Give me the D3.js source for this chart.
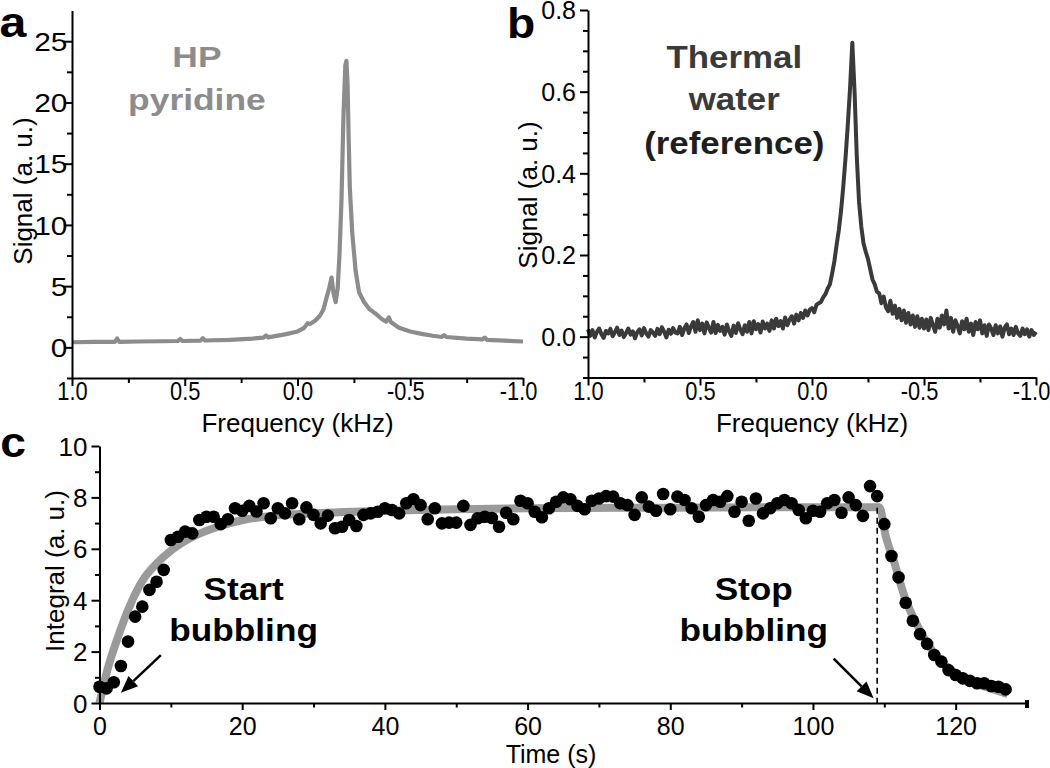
<!DOCTYPE html>
<html><head><meta charset="utf-8">
<script src="https://cdn.jsdelivr.net/npm/d3@7"></script>
<style>
body{margin:0;background:#fff}
svg{display:block}
text{font-family:"Liberation Sans",Arial,sans-serif}
</style></head>
<body><svg id="fig" width="1050" height="768"></svg>
<script>
// ---------------- DATA ----------------
// Panel a: HP pyridine spectrum (frequency kHz, signal a.u.)
const freqA = [1.0,0.9,0.81,0.8,0.79,0.7,0.6,0.53,0.52,0.51,0.43,0.42,0.41,0.3,0.2,0.15,0.14,0.13,0.1,0.05,0.0,-0.03,-0.045,-0.055,-0.08,-0.1,-0.115,-0.128,-0.14,-0.151,-0.16,-0.169,-0.178,-0.186,-0.195,-0.204,-0.212,-0.217,-0.222,-0.227,-0.232,-0.243,-0.258,-0.273,-0.295,-0.32,-0.35,-0.375,-0.393,-0.405,-0.415,-0.45,-0.5,-0.55,-0.6,-0.64,-0.65,-0.66,-0.75,-0.82,-0.83,-0.84,-0.92,-1.0];
const sigA = [0.42,0.45,0.45,0.72,0.45,0.48,0.5,0.52,0.68,0.52,0.55,0.74,0.56,0.62,0.72,0.8,0.98,0.82,0.92,1.08,1.3,1.6,1.98,1.9,2.2,2.6,3.1,4.0,4.8,5.7,4.4,3.7,4.8,7.5,12.0,19.0,23.0,23.4,21.5,17.0,13.0,9.3,6.2,4.5,3.7,3.1,2.7,2.3,2.1,2.45,2.05,1.6,1.3,1.1,0.95,0.85,1.0,0.85,0.72,0.65,0.8,0.62,0.55,0.48];

// Panel b: thermal water spectrum, sampled every 0.01 kHz from 1.0 down to -1.0
const freqStartB = 1.0, freqStepB = -0.01;
const sigB = [
0.018,0.002,0.016,-0.002,0.012,0.020,0.006,-0.003,0.014,0.008,
0.019,0.001,0.011,0.022,0.004,0.015,-0.001,0.009,0.020,0.005,
0.013,-0.004,0.011,0.018,0.003,0.021,0.008,0.000,0.016,0.010,
0.002,0.019,0.006,0.023,0.012,-0.002,0.017,0.007,0.021,0.010,
0.008,0.024,0.004,0.020,0.030,0.009,0.025,0.036,0.012,0.040,
0.016,0.032,0.008,0.035,0.021,0.010,0.036,0.009,0.029,0.014,
0.024,0.005,0.030,0.013,0.002,0.027,0.009,0.033,0.017,0.006,
0.028,0.012,0.036,0.008,0.038,0.018,0.031,0.010,0.037,0.020,
0.032,0.014,0.040,0.020,0.044,0.026,0.038,0.020,0.047,0.028,
0.042,0.050,0.032,0.054,0.040,0.058,0.046,0.064,0.052,0.066,
0.070,0.060,0.078,0.082,0.085,0.096,0.104,0.118,0.128,0.155,
0.185,0.225,0.262,0.310,0.370,0.440,0.520,0.610,0.720,0.600,
0.440,0.330,0.270,0.228,0.208,0.190,0.165,0.140,0.128,0.110,
0.106,0.082,0.098,0.072,0.062,0.088,0.056,0.076,0.046,0.068,
0.040,0.064,0.034,0.058,0.030,0.052,0.024,0.050,0.022,0.044,
0.020,0.042,0.016,0.046,0.028,0.012,0.044,0.022,0.052,0.030,
0.064,0.020,0.046,0.012,0.040,0.026,0.008,0.038,0.018,0.044,
0.012,0.032,0.004,0.036,0.018,0.040,0.008,0.028,0.002,0.030,
0.020,0.004,0.028,0.008,0.025,0.000,0.022,0.030,0.006,0.020,
0.004,0.024,0.008,0.002,0.020,0.006,0.018,0.000,0.016,0.004,0.012];

// Panel c: integral vs time, one point per second starting at t = 0 s
const intC = [
0.63,0.57,0.81,1.44,2.39,3.36,3.75,4.4,4.72,5.18,
6.34,6.47,6.67,6.6,7.12,7.25,7.25,6.96,7.15,7.58,
7.48,7.67,7.45,7.77,7.19,7.58,7.38,7.77,7.15,7.61,
7.32,6.99,7.29,6.8,6.86,7.12,6.89,7.32,7.38,7.44,
7.58,7.51,7.38,7.77,7.93,7.7,7.15,7.58,6.99,7.02,
7.02,7.67,6.93,7.19,7.25,7.2,6.86,7.4,7.15,7.87,
7.77,7.44,7.23,7.58,7.83,8.0,7.93,7.67,7.54,7.87,
7.96,8.05,8.03,7.77,7.7,7.32,8.0,7.64,7.48,8.13,
7.54,8.03,7.9,7.58,7.25,7.7,7.9,7.83,8.05,7.44,
7.83,7.09,7.96,7.38,7.58,7.77,7.9,7.77,7.51,7.19,
7.48,7.44,7.77,7.9,7.4,8.0,7.7,7.28,8.44,8.05,
6.96,5.72,4.89,3.9,3.2,2.68,2.3,1.87,1.61,1.28,
1.09,0.96,0.86,0.77,0.77,0.66,0.63,0.53];
// fitted curve
const fitT = [0,1.1,2.6,4.4,6.1,8.0,10.1,13.1,16.6,20.1,25,30,40,50,60,80,100,109.3,110.2,111.4,112.8,114.9,117.3,119.8,122.4,125.2,127.3];
const fitV = [0,1.28,2.58,3.88,4.79,5.43,5.95,6.47,6.86,7.12,7.3,7.38,7.48,7.54,7.58,7.6,7.62,7.62,6.5,5.46,4.17,2.87,1.83,1.19,0.8,0.54,0.35];
const stopTime = 109;

// tick values
const freqMajor = [1,0.5,0,-0.5,-1], freqMinor = [0.75,0.25,-0.25,-0.75];
const sigAMajor = [0,5,10,15,20,25], sigAMinor = [-2.5,2.5,7.5,12.5,17.5,22.5];
const sigBMajor = [0,0.2,0.4,0.6,0.8], sigBMinor = [-0.1,-0.05,0.05,0.1,0.15,0.25,0.3,0.35,0.45,0.5,0.55,0.65,0.7,0.75];
const timeMajor = [0,20,40,60,80,100,120], timeMinor = [10,30,50,70,90,110];
const intMajor = [0,2,4,6,8,10], intMinor = [1,3,5,7,9];

// ---------------- DRAWING ----------------
const svg = d3.select('#fig');
const FONT = '"Liberation Sans",Arial,sans-serif';

function axis(g, orient, scale, major, minor, fmt, o) {
  const mk = orient === 'left' ? d3.axisLeft : d3.axisBottom;
  const gm = g.append('g').call(mk(scale).tickValues(minor).tickSize(o.minLen).tickFormat(''));
  gm.select('.domain').remove();
  const ga = g.append('g').call(mk(scale).tickValues(major).tickSize(o.majLen).tickSizeOuter(0).tickFormat(fmt));
  g.selectAll('path.domain').attr('stroke', '#000').attr('stroke-width', 2);
  g.selectAll('.tick line').attr('stroke', '#000').attr('stroke-width', 2);
  const t = ga.selectAll('text').attr('fill', '#000').style('font-size', o.fs + 'px').style('font-family', FONT);
  if (orient === 'left') t.attr('x', o.off).attr('dy', '0.35em');
  else t.attr('y', o.off).attr('dy', 0);
  if (o.negDx) t.attr('dx', d => d < 0 ? o.negDx : 0);
  if (o.sx) t.attr('transform', `scale(${o.sx},1)`);
  return ga;
}
function label(g, str, x, y, size, weight, fill, sx, rot) {
  g.append('text')
    .attr('transform', `translate(${x},${y})` + (rot ? ` rotate(${rot})` : '') + (sx ? ` scale(${sx},1)` : ''))
    .attr('text-anchor', 'middle').style('font-size', size + 'px').style('font-weight', weight)
    .style('font-family', FONT).attr('fill', fill).text(str);
}
const f1 = v => v.toFixed(1);
const fd = d3.format('d');

// ---- Panel a ----
const xA = d3.scaleLinear().domain([1, -1]).range([72, 523]);
const yA = d3.scaleLinear().domain([-2.5, 27.5]).range([378, 10.6]);
const gA = svg.append('g');
gA.append('path').datum(freqA.map((f, i) => [f, sigA[i]]))
  .attr('fill', 'none').attr('stroke', '#8c8c8c').attr('stroke-width', 4.2).attr('stroke-linejoin', 'round')
  .attr('d', d3.line().x(d => xA(d[0])).y(d => yA(d[1])));
axis(gA.append('g').attr('transform', `translate(${xA.range()[0]},0)`), 'left', yA, sigAMajor, sigAMinor, fd, {majLen: 8, minLen: 5, fs: 26, off: -4, sx: 1.15});
axis(gA.append('g').attr('transform', `translate(0,${yA.range()[0]})`), 'bottom', xA, freqMajor, freqMinor, f1, {majLen: 8, minLen: 5, fs: 26, off: 22, sx: 0.84, negDx: -6});
label(gA, 'HP', xA(0.446), yA(22.9), 30, 'bold', '#8c8c8c', 1.18);
label(gA, 'pyridine', xA(0.446), yA(19.4), 30, 'bold', '#8c8c8c', 1.18);
label(gA, 'Signal (a. u.)', 32, 191, 26, 'normal', '#000', 0, -90);
label(gA, 'Frequency (kHz)', (xA.range()[0] + xA.range()[1]) / 2, 432, 26, 'normal', '#000');
label(gA, 'a', 13, 37, 42, 'bold', '#000', 1.15);

// ---- Panel b ----
const xB = d3.scaleLinear().domain([1, -1]).range([588, 1036]);
const yB = d3.scaleLinear().domain([-0.1, 0.8]).range([377.5, 10]);
const gB = svg.append('g');
gB.append('path').datum(sigB.map((v, i) => [freqStartB + i * freqStepB, v]))
  .attr('fill', 'none').attr('stroke', '#3a3a3a').attr('stroke-width', 4).attr('stroke-linejoin', 'round')
  .attr('d', d3.line().x(d => xB(d[0])).y(d => yB(d[1])));
axis(gB.append('g').attr('transform', `translate(${xB.range()[0]},0)`), 'left', yB, sigBMajor, sigBMinor, f1, {majLen: 8, minLen: 5, fs: 25, off: -12});
axis(gB.append('g').attr('transform', `translate(0,${yB.range()[0]})`), 'bottom', xB, freqMajor, freqMinor, f1, {majLen: 8, minLen: 5, fs: 26, off: 22, sx: 0.84, negDx: -6});
label(gB, 'Thermal', xB(0.347), yB(0.658), 32, 'bold', '#3a3a3a', 1.09);
label(gB, 'water', xB(0.347), yB(0.555), 32, 'bold', '#3a3a3a', 1.09);
label(gB, '(reference)', xB(0.347), yB(0.447), 32, 'bold', '#1e1e1e', 1.09);
label(gB, 'Signal (a. u.)', 537, 195, 26, 'normal', '#000', 0, -90);
label(gB, 'Frequency (kHz)', (xB.range()[0] + xB.range()[1]) / 2, 432, 26, 'normal', '#000');
label(gB, 'b', 521, 38, 42, 'bold', '#000', 1.1);

// ---- Panel c ----
const xC = d3.scaleLinear().domain([0, 130]).range([99.5, 1027]);
const yC = d3.scaleLinear().domain([0, 10]).range([703, 446]);
const gC = svg.append('g');
gC.append('path').datum(fitT.map((t, i) => [t, fitV[i]]))
  .attr('fill', 'none').attr('stroke', '#9a9a9a').attr('stroke-width', 8)
  .attr('d', d3.line().x(d => xC(d[0])).y(d => yC(d[1])).curve(d3.curveMonotoneX));
gC.append('line').attr('x1', xC(stopTime)).attr('x2', xC(stopTime)).attr('y1', yC(7.6)).attr('y2', yC(0))
  .attr('stroke', '#000').attr('stroke-width', 1.6).attr('stroke-dasharray', '6,4');
gC.append('g').selectAll('circle').data(intC).join('circle')
  .attr('cx', (v, i) => xC(i)).attr('cy', v => yC(v)).attr('r', 6.3).attr('fill', '#000');
axis(gC.append('g').attr('transform', `translate(${xC.range()[0]},0)`), 'left', yC, intMajor, intMinor, fd, {majLen: 8, minLen: 4.5, fs: 26, off: -12});
axis(gC.append('g').attr('transform', `translate(0,${yC.range()[0]})`), 'bottom', xC, timeMajor, timeMinor, fd, {majLen: 7, minLen: 4.5, fs: 25, off: 32});
gC.append('line').attr('x1', xC(130)).attr('x2', xC(130)).attr('y1', yC(0) - 3).attr('y2', yC(0) + 5)
  .attr('stroke', '#000').attr('stroke-width', 4);

function arrow(g, t1, v1, t2, v2) {
  const x1 = xC(t1), y1 = yC(v1), x2 = xC(t2), y2 = yC(v2);
  const a = Math.atan2(y2 - y1, x2 - x1), L = 17, W = 7;
  const bx = x2 - L * Math.cos(a), by = y2 - L * Math.sin(a);
  g.append('line').attr('x1', x1).attr('y1', y1).attr('x2', bx).attr('y2', by).attr('stroke', '#000').attr('stroke-width', 2.5);
  g.append('path').attr('fill', '#000').attr('d',
    `M${x2},${y2}L${bx + W * Math.sin(a)},${by - W * Math.cos(a)}L${bx - W * Math.sin(a)},${by + W * Math.cos(a)}Z`);
}
arrow(gC, 8.6, 1.86, 3.0, 0.4);
arrow(gC, 102.9, 1.73, 108.5, 0.18);
label(gC, 'Start', xC(20.2), yC(4.0), 32, 'bold', '#000', 1.1);
label(gC, 'bubbling', xC(20.2), yC(2.41), 32, 'bold', '#000', 1.1);
label(gC, 'Stop', xC(91.7), yC(4.0), 32, 'bold', '#000', 1.1);
label(gC, 'bubbling', xC(91.7), yC(2.41), 32, 'bold', '#000', 1.1);
label(gC, 'Integral (a. u.)', 64, 571, 26, 'normal', '#000', 0, -90);
label(gC, 'Time (s)', 551, 763, 25, 'normal', '#000');
label(gC, 'c', 13, 457, 42, 'bold', '#000', 1.1);
</script>
</body></html>
